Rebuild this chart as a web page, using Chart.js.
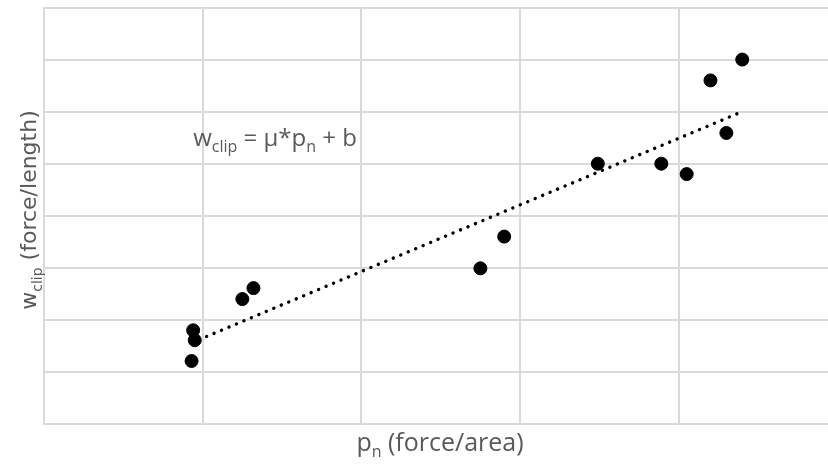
<!DOCTYPE html>
<html>
<head>
<meta charset="utf-8">
<script src="https://cdn.jsdelivr.net/npm/chart.js@4.4.1/dist/chart.umd.min.js"></script>
<style>
  html, body { margin: 0; padding: 0; background: #fff; overflow: hidden; }
  #wrap { width: 837px; height: 465px; }
</style>
</head>
<body>
<div id="wrap"><canvas id="c"></canvas></div>
<script>
const pn    = [0.94, 0.95, 0.93, 1.25, 1.32, 2.75, 2.90, 3.49, 3.89, 4.05, 4.20, 4.30, 4.40];
const wclip = [1.80, 1.61, 1.21, 2.40, 2.61, 2.99, 3.60, 5.00, 5.00, 4.80, 6.60, 5.59, 7.00];

// dotted trend line end points
const trendX = [0.93, 4.40];
const trendY = [1.56, 6.00];

const X_MAX = 4.95;
const Y_MAX = 8;
const GRID  = '#d9d9d9';
const TEXT  = '#595959';

// draws a run of text pieces, some of them as subscripts
function drawRich(ctx, parts, x, y, align) {
  let total = 0;
  parts.forEach(p => {
    ctx.font = p.size + 'px ' + p.family;
    total += ctx.measureText(p.t).width;
  });
  let cx = align === 'center' ? x - total / 2 : x;
  parts.forEach(p => {
    ctx.font = p.size + 'px ' + p.family;
    ctx.fillText(p.t, cx, y + (p.dy || 0));
    cx += ctx.measureText(p.t).width;
  });
}

const labelsPlugin = {
  id: 'labels',
  afterDraw(chart) {
    const { ctx, scales } = chart;
    const F = '"Open Sans", Lato, sans-serif';
    const G = '"DejaVu Sans", sans-serif';
    ctx.save();
    ctx.fillStyle = TEXT;
    ctx.textBaseline = 'alphabetic';
    ctx.textAlign = 'left';

    // equation label
    drawRich(ctx, [
      { t: 'w', size: 24, family: F },
      { t: 'clip', size: 16, family: F, dy: 6 },
      { t: ' = \u03bc*p', size: 24, family: F },
      { t: 'n', size: 16, family: F, dy: 6 },
      { t: ' + b', size: 24, family: F },
    ], scales.x.getPixelForValue(0.94), scales.y.getPixelForValue(5.34), 'left');

    // x axis title
    drawRich(ctx, [
      { t: 'p', size: 25, family: F },
      { t: 'n', size: 16, family: F, dy: 6 },
      { t: ' (force/area)', size: 25, family: F },
    ], 440, 451, 'center');

    // y axis title
    ctx.translate(36, 210);
    ctx.rotate(-Math.PI / 2);
    drawRich(ctx, [
      { t: 'w', size: 22, family: G },
      { t: 'clip', size: 14, family: G, dy: 6 },
      { t: ' (force/length)', size: 22, family: G },
    ], 0, 0, 'center');
    ctx.restore();
  }
};

new Chart(document.getElementById('c'), {
  type: 'scatter',
  data: {
    datasets: [
      {
        label: 'trend',
        type: 'line',
        data: trendX.map((x, i) => ({ x, y: trendY[i] })),
        borderColor: '#000',
        borderWidth: 3.4,
        borderDash: [0.1, 8],
        borderCapStyle: 'round',
        pointRadius: 0,
        fill: false,
      },
      {
        label: 'data',
        data: pn.map((x, i) => ({ x, y: wclip[i] })),
        backgroundColor: '#000',
        borderColor: '#000',
        pointRadius: 6.5,
        pointHoverRadius: 6.5,
      },
    ],
  },
  options: {
    responsive: true,
    maintainAspectRatio: false,
    animation: false,
    layout: { padding: { left: 44, top: 2, right: 0, bottom: 41 } },
    plugins: { legend: { display: false }, tooltip: { enabled: false } },
    scales: {
      x: {
        type: 'linear',
        min: 0,
        max: X_MAX,
        afterBuildTicks: s => { s.ticks = s.ticks.filter(t => Number.isInteger(t.value)); },
        ticks: { display: false, stepSize: 1 },
        grid: { color: GRID, lineWidth: 2, drawTicks: false },
        border: { color: GRID, width: 2 },
      },
      y: {
        min: 0,
        max: Y_MAX,
        ticks: { display: false, stepSize: 1 },
        grid: { color: GRID, lineWidth: 2, drawTicks: false },
        border: { color: GRID, width: 2 },
      },
    },
  },
  plugins: [labelsPlugin],
});
</script>
</body>
</html>
